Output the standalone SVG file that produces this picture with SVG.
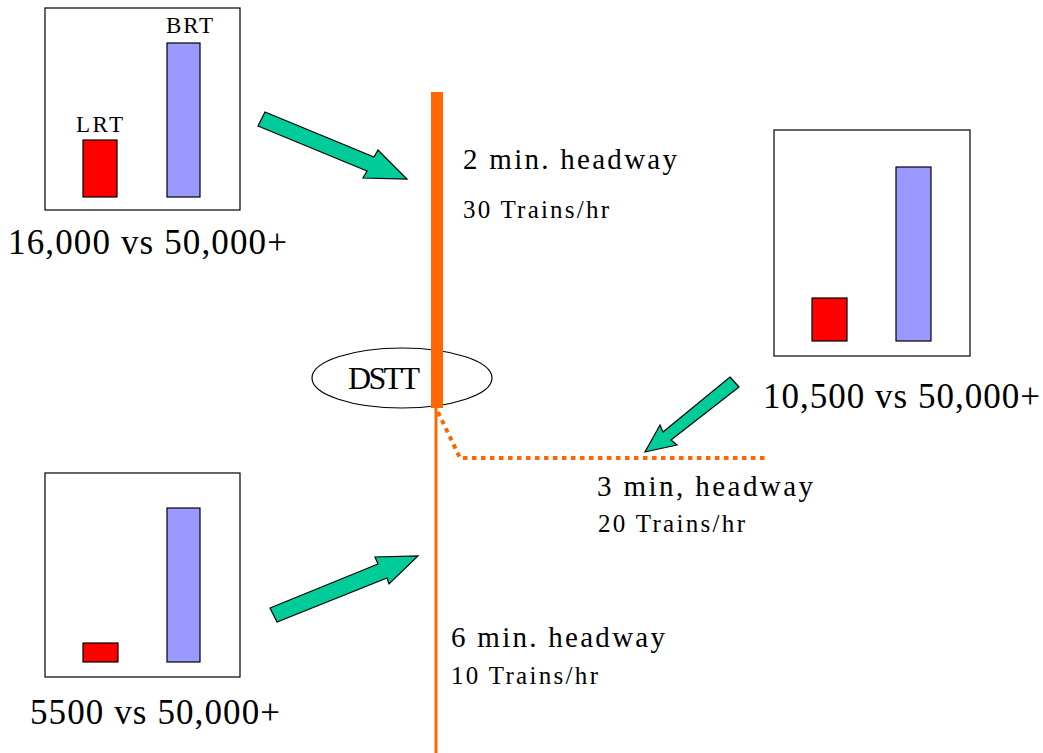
<svg xmlns="http://www.w3.org/2000/svg" width="1043" height="753" viewBox="0 0 1043 753">
<style>
.box{fill:#fff;stroke:#000;stroke-width:1.2}
.lrt{fill:#f00;stroke:#000;stroke-width:1.2}
.brt{fill:#99f;stroke:#000;stroke-width:1.2}
.arr{fill:#00cc99;stroke:#000;stroke-width:1.2;stroke-linejoin:miter}
text{font-family:"Liberation Serif","Times New Roman",serif;fill:#000}
.big{font-size:35px}
.hw{font-size:29px}
.tr{font-size:25px}
.lab{font-size:23px}
</style>
<rect width="1043" height="753" fill="#fff"/>
<g id="chart-16000">
<rect class="box" x="45" y="8" width="195" height="202"/>
<rect class="lrt" x="83" y="140" width="34" height="57"/>
<rect class="brt" x="167" y="43" width="33" height="154"/>
<text class="lab" x="76" y="132" textLength="47" lengthAdjust="spacing">LRT</text>
<text class="lab" x="166" y="33" textLength="47" lengthAdjust="spacing">BRT</text>
<text class="big" x="8" y="254" textLength="279" lengthAdjust="spacing">16,000 vs 50,000+</text>
</g>
<g id="chart-10500">
<rect class="box" x="774" y="130" width="196" height="226"/>
<rect class="lrt" x="812" y="298" width="35" height="43"/>
<rect class="brt" x="896" y="167" width="35" height="174"/>
<text class="big" x="763" y="408" textLength="277" lengthAdjust="spacing">10,500 vs 50,000+</text>
</g>
<g id="chart-5500">
<rect class="box" x="45" y="473" width="195" height="204"/>
<rect class="lrt" x="83" y="643" width="35" height="19"/>
<rect class="brt" x="167" y="508" width="33" height="154"/>
<text class="big" x="30" y="724" textLength="250" lengthAdjust="spacing">5500 vs 50,000+</text>
</g>
<g id="dstt">
<ellipse cx="402" cy="378" rx="90" ry="30" fill="#fff" stroke="#000" stroke-width="1.2"/>
</g>
<g id="connectors">
<line x1="436" y1="92" x2="436" y2="753" stroke="#ff6600" stroke-width="3"/>
<rect x="431" y="92" width="12" height="316" fill="#ff6600"/>
<polyline points="438,412 460,458 765,458" fill="none" stroke="#ff6600" stroke-width="4" stroke-dasharray="4.5 4.5"/>
<polygon class="arr" points="265,112 374,157 378,150 407,179 363,178 367,171 258,126"/>
<polygon class="arr" points="730,377 739,387 671,440 677,445 645,452 660,425 663,432"/>
<polygon class="arr" points="270,608 378,564 375,557 418,556 389,584 387,578 277,622"/>
</g>
<g id="dstt-label">
<text x="348" y="389" font-size="32" textLength="72" lengthAdjust="spacing">DSTT</text>
</g>
<g id="seg-2min">
<text class="hw" x="463" y="169" textLength="214" lengthAdjust="spacing">2 min. headway</text>
<text class="tr" x="463" y="218" textLength="146" lengthAdjust="spacing">30 Trains/hr</text>
</g>
<g id="seg-3min">
<text class="hw" x="597" y="496" textLength="216" lengthAdjust="spacing">3 min, headway</text>
<text class="tr" x="598" y="532" textLength="147" lengthAdjust="spacing">20 Trains/hr</text>
</g>
<g id="seg-6min">
<text class="hw" x="451" y="647" textLength="214" lengthAdjust="spacing">6 min. headway</text>
<text class="tr" x="451" y="684" textLength="147" lengthAdjust="spacing">10 Trains/hr</text>
</g>
</svg>
